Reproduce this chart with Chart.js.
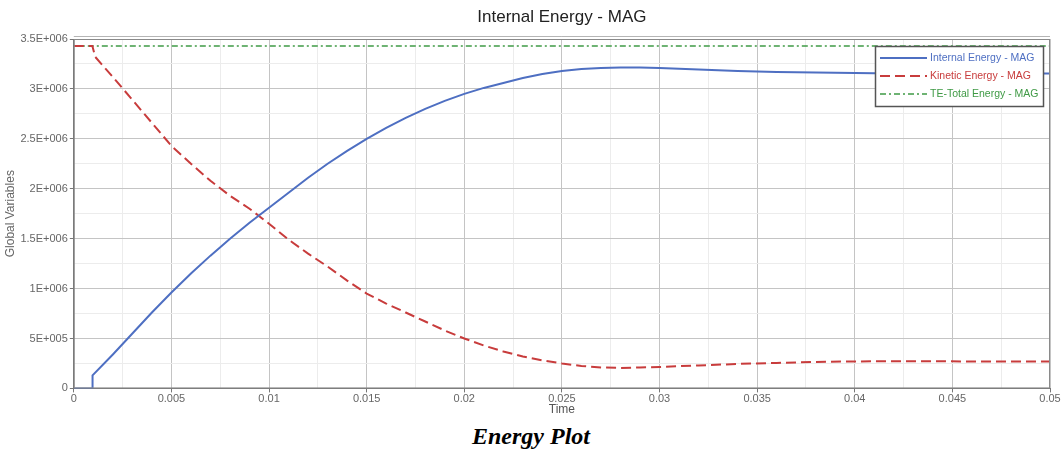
<!DOCTYPE html>
<html>
<head>
<meta charset="utf-8">
<script src="https://cdn.jsdelivr.net/npm/chart.js@4.4.1/dist/chart.umd.min.js"></script>
<style>
  html, body { margin: 0; padding: 0; background: #fff; }
  #wrap { position: relative; width: 1062px; height: 420px; }
  #caption { position: absolute; left: 0; top: 424px; width: 1062px; text-align: center;
    font-family: "Liberation Serif", "Times New Roman", serif; font-weight: bold; font-style: italic;
    font-size: 24px; line-height: 24px; color: #000; }
</style>
</head>
<body>
<div id="wrap"><canvas id="c" width="1062" height="420"></canvas></div>
<div id="caption">Energy Plot</div>
<script>
// ---- data ----
const chartTitle = "Internal Energy - MAG";
const xTitle = "Time";
const yTitle = "Global Variables";
const seriesNames = ["Internal Energy - MAG", "Kinetic Energy - MAG", "TE-Total Energy - MAG"];

const timeInternal = [0, 0.00095, 0.00096, 0.002, 0.003, 0.004, 0.005, 0.006, 0.007, 0.008, 0.009, 0.010,
  0.011, 0.012, 0.013, 0.014, 0.015, 0.016, 0.017, 0.018, 0.019, 0.020, 0.021, 0.022, 0.023, 0.024, 0.025,
  0.026, 0.027, 0.028, 0.029, 0.030, 0.032, 0.034, 0.036, 0.038, 0.040, 0.042, 0.044, 0.046, 0.048, 0.050];
const internalEnergy = [0, 0, 130000, 340000, 550000, 760000, 960000, 1150000, 1330000, 1500000, 1660000, 1810000,
  1960000, 2110000, 2250000, 2380000, 2500000, 2610000, 2710000, 2800000, 2880000, 2950000, 3010000, 3060000, 3110000, 3150000, 3180000,
  3200000, 3210000, 3215000, 3215000, 3210000, 3195000, 3180000, 3170000, 3165000, 3160000, 3155000, 3155000, 3155000, 3155000, 3155000];

const timeKinetic = [0, 0.00095, 0.0011, 0.002, 0.003, 0.004, 0.005, 0.006, 0.007, 0.008, 0.009, 0.010,
  0.011, 0.012, 0.013, 0.014, 0.015, 0.016, 0.017, 0.018, 0.019, 0.020, 0.021, 0.022, 0.023, 0.024, 0.025,
  0.026, 0.027, 0.028, 0.029, 0.030, 0.032, 0.034, 0.036, 0.038, 0.040, 0.042, 0.044, 0.046, 0.048, 0.050];
const kineticEnergy = [3430000, 3430000, 3320000, 3120000, 2890000, 2660000, 2430000, 2250000, 2080000, 1930000, 1800000, 1650000,
  1490000, 1350000, 1220000, 1080000, 950000, 850000, 760000, 670000, 580000, 500000, 430000, 370000, 320000, 280000, 250000,
  225000, 210000, 205000, 210000, 215000, 230000, 245000, 255000, 265000, 270000, 272000, 272000, 270000, 270000, 270000];

const timeTotal = [0, 0.001, 0.01, 0.02, 0.03, 0.04, 0.05];
const totalEnergy = [3430000, 3430000, 3430000, 3430000, 3430000, 3430000, 3430000];

const xMin = 0, xMax = 0.05, xMinorStep = 0.0025, xMajorStep = 0.005;
const yMin = 0, yMax = 3500000, yMinorStep = 250000, yMajorStep = 500000;

// ---- helpers ----
function pts(xs, ys) { return xs.map((x, i) => ({ x: x, y: ys[i] })); }
function isMajor(v, step) { const r = v / step; return Math.abs(r - Math.round(r)) < 1e-6; }
function fmtY(v) {
  if (v === 0) return "0";
  const e = Math.floor(Math.log10(v) + 1e-9);
  const m = parseFloat((v / Math.pow(10, e)).toFixed(3));
  return m + "E+" + String(e).padStart(3, "0");
}
function fmtX(v) { return v === 0 ? "0" : String(parseFloat(v.toFixed(4))); }
function makeTicks(min, max, step) {
  const n = Math.round((max - min) / step); const out = [];
  for (let i = 0; i <= n; i++) out.push({ value: parseFloat((min + i * step).toFixed(6)) });
  return out;
}

const FONT = "'Liberation Sans', Arial, sans-serif";
const colors = { internal: "#4e6fc2", kinetic: "#c83c3c", total: "#3f9a45" };

const frame = {
  id: "frame",
  afterDatasetsDraw(chart) {
    const { ctx, chartArea: a } = chart;
    ctx.save();
    ctx.strokeStyle = "#8a8a8a"; ctx.lineWidth = 1;
    ctx.strokeRect(a.left + 0.5, a.top + 0.5, a.right - a.left - 1, a.bottom - a.top - 1);
    ctx.strokeStyle = "#b5b5b5";
    ctx.beginPath(); ctx.moveTo(a.left, a.top - 2.5); ctx.lineTo(a.right, a.top - 2.5); ctx.stroke();
    // legend box
    const bx = 875, by = 46, bw = 168, bh = 60;
    ctx.fillStyle = "#ffffff"; ctx.fillRect(bx, by, bw, bh);
    ctx.strokeStyle = "#555"; ctx.lineWidth = 1.5;
    ctx.strokeRect(bx + 0.5, by + 0.5, bw, bh);
    ctx.font = "10.5px " + FONT;
    ctx.textBaseline = "middle";
    const ds = chart.data.datasets;
    const rows = [58, 76, 94];
    ds.forEach((d, i) => {
      const y = rows[i];
      ctx.strokeStyle = d.borderColor; ctx.lineWidth = d.borderWidth;
      ctx.setLineDash(d.borderDash || []);
      ctx.beginPath(); ctx.moveTo(880, y); ctx.lineTo(927, y); ctx.stroke();
      ctx.setLineDash([]);
      ctx.fillStyle = d.borderColor;
      ctx.fillText(d.label, 930, y);
    });
    ctx.restore();
  }
};

const gridColor = (step) => (c) => (c.tick && isMajor(c.tick.value, step)) ? "#c4c4c4" : "#ececec";
const tickColor = (step) => (c) => (c.tick && isMajor(c.tick.value, step)) ? "#777" : "rgba(0,0,0,0)";

new Chart(document.getElementById("c"), {
  type: "line",
  data: {
    datasets: [
      { label: seriesNames[0], data: pts(timeInternal, internalEnergy), borderColor: colors.internal,
        borderWidth: 2, pointRadius: 0, tension: 0, fill: false },
      { label: seriesNames[1], data: pts(timeKinetic, kineticEnergy), borderColor: colors.kinetic,
        borderWidth: 2, borderDash: [10, 5], pointRadius: 0, tension: 0, fill: false },
      { label: seriesNames[2], data: pts(timeTotal, totalEnergy), borderColor: colors.total,
        borderWidth: 1.5, borderDash: [6, 3, 2, 3], pointRadius: 0, tension: 0, fill: false }
    ]
  },
  options: {
    responsive: false, animation: false,
    layout: { padding: { left: 3, right: 12, top: 0, bottom: 3 } },
    plugins: {
      legend: { display: false },
      tooltip: { enabled: false },
      title: { display: true, text: chartTitle, fullSize: false, color: "#222",
        font: { family: FONT, size: 17, weight: "normal" }, padding: { top: 7, bottom: 11.6 } }
    },
    scales: {
      x: {
        type: "linear", min: xMin, max: xMax,
        afterBuildTicks: (s) => { s.ticks = makeTicks(xMin, xMax, xMinorStep); },
        ticks: { autoSkip: false, maxRotation: 0, color: "#666", padding: 0,
          font: { family: FONT, size: 11 },
          callback: (v) => isMajor(v, xMajorStep) ? fmtX(v) : "" },
        grid: { color: gridColor(xMajorStep), tickColor: tickColor(xMajorStep), tickLength: 4 },
        border: { color: "#777" },
        title: { display: true, text: xTitle, color: "#555", padding: { top: -3, bottom: 0 },
          font: { family: FONT, size: 12 } }
      },
      y: {
        type: "linear", min: yMin, max: yMax,
        afterBuildTicks: (s) => { s.ticks = makeTicks(yMin, yMax, yMinorStep); },
        ticks: { autoSkip: false, color: "#666", padding: 2,
          font: { family: FONT, size: 11 },
          callback: (v) => isMajor(v, yMajorStep) ? fmtY(v) : "" },
        grid: { color: gridColor(yMajorStep), tickColor: tickColor(yMajorStep), tickLength: 4 },
        border: { color: "#777" },
        title: { display: true, text: yTitle, color: "#666", padding: { top: 0, bottom: 1 },
          font: { family: FONT, size: 12 } }
      }
    }
  },
  plugins: [frame]
});
</script>
</body>
</html>
